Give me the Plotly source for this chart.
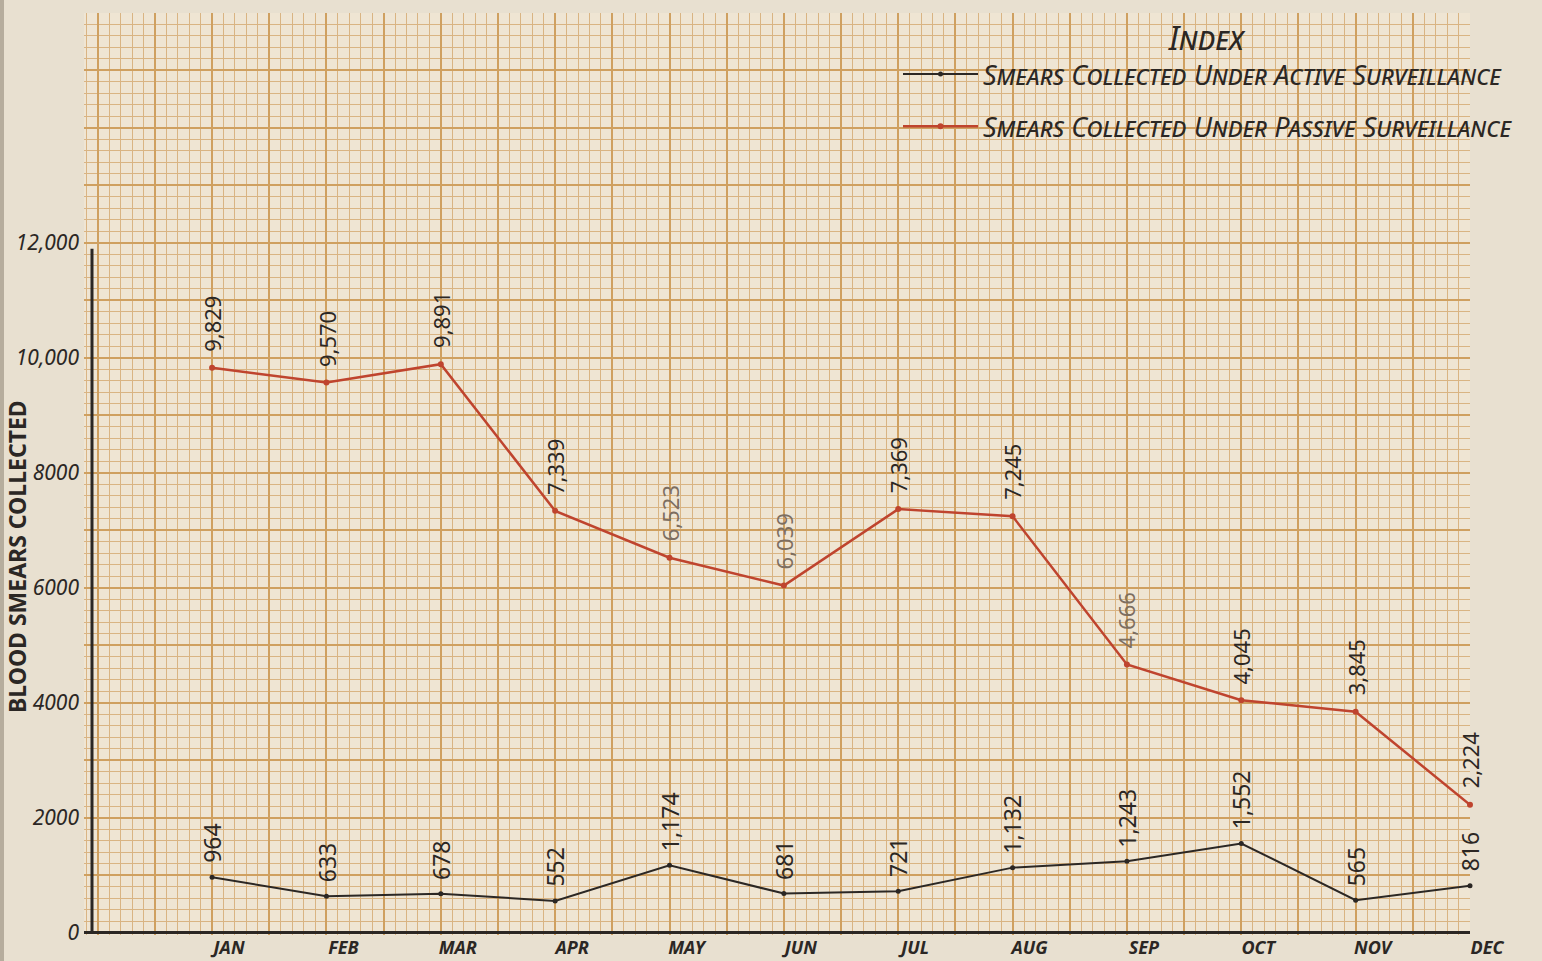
import plotly.graph_objects as go

# --- data ---
months = ["JAN", "FEB", "MAR", "APR", "MAY", "JUN", "JUL", "AUG", "SEP", "OCT", "NOV", "DEC"]
active = [964, 633, 678, 552, 1174, 681, 721, 1132, 1243, 1552, 565, 816]
passive = [9829, 9570, 9891, 7339, 6523, 6039, 7369, 7245, 4666, 4045, 3845, 2224]
y_tickvals = [0, 2000, 4000, 6000, 8000, 10000, 12000, 14000, 16000]
y_ticktext = ["0", "2000", "4000", "6000", "8000", "10,000", "12,000", "", ""]

# --- colours ---
INK = "#2b2724"
RED = "#bf442e"
PENCIL = "#7d6e60"
PAPER = "#efe5d3"
CREAM = "#e8e0d0"
GRID_FINE = "#d9b483"
GRID_MID = "#cfa060"
GRID_BOLD = "#c38b48"

W, H = 1542, 961
L, R, T, B = 84, 72, 13, 26
plot_w = W - L - R

x_range = [-1.12, 11]
y_range = [-40, 16000]

fig = go.Figure()

fig.add_trace(go.Scatter(
    x=list(range(len(months))), y=active, mode="lines+markers",
    name="Smears Collected Under Active Surveillance", legendgroup="a",
    line=dict(color=INK, width=2), marker=dict(color=INK, size=5),
    cliponaxis=False,
))
fig.add_trace(go.Scatter(
    x=list(range(len(months))), y=passive, mode="lines+markers",
    name="Smears Collected Under Passive Surveillance", legendgroup="p",
    line=dict(color=RED, width=2.5), marker=dict(color=RED, size=6),
    cliponaxis=False,
))
# empty trace so the graph-paper axes (x2/y2) get drawn
fig.add_trace(go.Scatter(x=[], y=[], xaxis="x2", yaxis="y2", showlegend=False, hoverinfo="skip"))

# handwritten value labels, rotated
faded = {"MAY", "JUN", "SEP"}
ann = []
for i, m in enumerate(months):
    ann.append(dict(x=i, y=active[i], text=f"{active[i]:,}", textangle=-90,
                    xanchor="center", yanchor="bottom", yshift=12, showarrow=False,
                    font=dict(size=23, color=INK)))
    ann.append(dict(x=i, y=passive[i], text=f"{passive[i]:,}", textangle=-90,
                    xanchor="center", yanchor="bottom", yshift=14, showarrow=False,
                    font=dict(size=22, color=PENCIL if m in faded else INK)))

# y-axis title, squeezed against the book gutter
ann.append(dict(xref="paper", yref="paper", x=(17 - L) / plot_w, y=0.41,
                text="BLOOD SMEARS COLLECTED", textangle=-90, showarrow=False,
                xanchor="center", yanchor="middle",
                font=dict(size=23, color=INK, weight="bold")))

fig.update_layout(
    width=W, height=H,
    margin=dict(l=L, r=R, t=T, b=B, autoexpand=False),
    paper_bgcolor=CREAM, plot_bgcolor=PAPER,
    font=dict(family="Noto Sans", color=INK),
    annotations=ann,
    showlegend=True,
    legend=dict(
        x=(898 - L) / plot_w, xanchor="left", y=1.005, yanchor="top",
        bgcolor="rgba(0,0,0,0)", tracegroupgap=14, itemwidth=75,
        font=dict(size=27, style="italic", variant="small-caps", color=INK),
        title=dict(text="Index", side="top center",
                   font=dict(size=32, style="italic", variant="small-caps", color=INK)),
    ),
    xaxis=dict(
        range=x_range, tickvals=[-1] + list(range(len(months))), ticktext=[""] + months,
        showgrid=True, gridcolor=GRID_BOLD, gridwidth=2,
        zeroline=False, showline=False, ticks="", automargin=False,
        ticklabelshift=17, ticklabelstandoff=0,
        tickfont=dict(size=18, style="italic", weight="bold", color=INK),
    ),
    yaxis=dict(
        range=y_range, tickvals=y_tickvals, ticktext=y_ticktext,
        showgrid=True, gridcolor=GRID_BOLD, gridwidth=2,
        zeroline=True, zerolinecolor=INK, zerolinewidth=3,
        showline=False, ticks="", ticklabelstandoff=4, automargin=False,
        tickfont=dict(size=21, style="italic", color=INK),
    ),
    # graph-paper grid: 5-square and 1-square rulings
    xaxis2=dict(
        overlaying="x", anchor="y2", range=x_range, tickmode="linear", tick0=0, dtick=0.5,
        showgrid=True, gridcolor=GRID_MID, gridwidth=1.5, showticklabels=False,
        ticks="", zeroline=False, automargin=False,
        minor=dict(tick0=0, dtick=0.1, showgrid=True, gridcolor=GRID_FINE, gridwidth=1),
    ),
    yaxis2=dict(
        overlaying="y", anchor="x2", range=y_range, tickmode="linear", tick0=0, dtick=1000,
        showgrid=True, gridcolor=GRID_MID, gridwidth=1.5, showticklabels=False,
        ticks="", zeroline=False, automargin=False,
        minor=dict(tick0=0, dtick=200, showgrid=True, gridcolor=GRID_FINE, gridwidth=1),
    ),
    shapes=[
        # hand-ruled vertical axis
        dict(type="line", xref="paper", yref="y", x0=8 / plot_w, x1=8 / plot_w,
             y0=0, y1=11900, line=dict(color=INK, width=3), layer="above"),
        # shadow of the binding
        dict(type="rect", xref="paper", yref="paper", x0=-L / plot_w, x1=(4 - L) / plot_w,
             y0=-1, y1=2, fillcolor="rgba(90,78,64,0.35)", line=dict(width=0), layer="below"),
    ],
)

fig.write_html(
    "out.html",
    config={"displayModeBar": False},
    post_script="document.body.style.margin='0';document.body.style.overflow='hidden';"
                "document.body.style.background='%s';" % CREAM,
)
